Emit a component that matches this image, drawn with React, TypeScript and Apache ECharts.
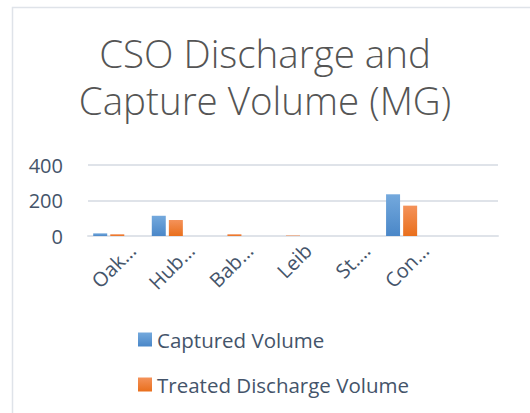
import React, { useEffect, useRef } from "react";
import * as echarts from "echarts";

const titleLines = ["CSO Discharge and", "Capture Volume (MG)"];
const categories = ["Oak…", "Hub…", "Bab…", "Leib", "St.…", "Con…", ""];
const seriesNames = ["Captured Volume", "Treated Discharge Volume"];
const capturedVolume = [15, 114, 0, 0, 0, 235, null];
const treatedDischargeVolume = [10, 90, 10, 3, 0, 171, null];
const emptySeries = [null, null, null, null, null, null, null];
const yTicks = { min: 0, max: 400, interval: 200 };

const FONT = "'Open Sans', 'Noto Sans', sans-serif";
const TEXT = "#44546A";
const LINE = "#DFE3E9";

function grad(top: string, bottom: string) {
  return new echarts.graphic.LinearGradient(0, 0, 0, 1, [
    { offset: 0, color: top },
    { offset: 1, color: bottom },
  ]);
}

export default function App() {
  const ref = useRef<HTMLDivElement>(null);
  useEffect(() => {
    if (!ref.current) return;
    const chart = echarts.init(ref.current, null, { renderer: "svg" });
    chart.setOption({
      animation: false,
      backgroundColor: "#ffffff",
      title: {
        text: titleLines.join("\n"),
        left: "center",
        top: 24,
        textStyle: {
          fontFamily: FONT,
          fontWeight: 300,
          fontSize: 38.5,
          lineHeight: 47,
          color: "#555555",
        },
      },
      graphic: [
        {
          type: "rect",
          shape: { x: 12.5, y: 7.5, width: 700, height: 600 },
          style: { fill: "none", stroke: LINE, lineWidth: 1.5 },
          silent: true,
        },
      ],
      legend: {
        orient: "vertical",
        left: 133,
        top: 324,
        data: seriesNames,
        itemWidth: 14,
        itemHeight: 14,
        itemGap: 24,
        icon: "rect",
        textStyle: { fontFamily: FONT, fontSize: 20.5, color: TEXT },
      },
      grid: [
        { left: 88, right: 32, top: 165, bottom: 177, containLabel: false },
        { left: 103, right: 17, top: 165, bottom: 177, containLabel: false },
      ],
      xAxis: [
        {
          type: "category",
          gridIndex: 0,
          data: categories,
          axisLine: { lineStyle: { color: LINE, width: 2 } },
          axisTick: { show: false },
          axisLabel: { show: false },
        },
        {
          type: "category",
          gridIndex: 1,
          data: categories,
          axisLine: { show: false },
          axisTick: { show: false },
          splitLine: { show: false },
          axisLabel: {
            rotate: 45,
            interval: 0,
            fontFamily: FONT,
            fontSize: 20,
            color: TEXT,
            margin: 11,
          },
        },
      ],
      yAxis: [
        {
          type: "value",
          gridIndex: 0,
          min: yTicks.min,
          max: yTicks.max,
          interval: yTicks.interval,
          axisLine: { show: false },
          axisTick: { show: false },
          splitLine: { lineStyle: { color: LINE, width: 2 } },
          axisLabel: {
            fontFamily: FONT,
            fontSize: 20,
            color: TEXT,
            margin: 25,
          },
        },
        {
          type: "value",
          gridIndex: 1,
          min: yTicks.min,
          max: yTicks.max,
          interval: yTicks.interval,
          show: false,
        },
      ],
      series: [
        {
          name: seriesNames[0],
          type: "bar",
          data: capturedVolume,
          barWidth: 14,
          barGap: "22%",
          itemStyle: { color: grad("#74A9DD", "#4A87C8") },
        },
        {
          name: seriesNames[1],
          type: "bar",
          data: treatedDischargeVolume,
          barWidth: 14,
          barGap: "22%",
          itemStyle: { color: grad("#F4925A", "#E96F1C") },
        },
        {
          name: "",
          type: "bar",
          data: emptySeries,
          barWidth: 14,
          barGap: "22%",
          itemStyle: { color: "#A5A5A5" },
        },
      ],
    });
    return () => chart.dispose();
  }, []);
  return (
    <div
      ref={ref}
      style={{ position: "fixed", left: 0, top: 0, width: 530, height: 413 }}
    />
  );
}
